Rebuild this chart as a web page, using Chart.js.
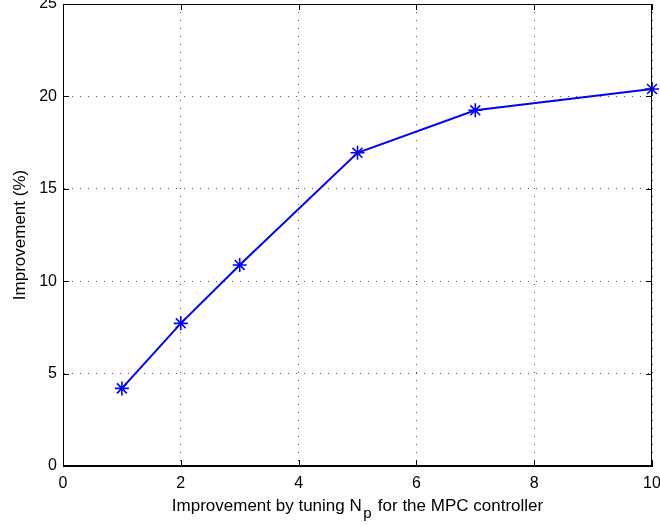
<!DOCTYPE html>
<html>
<head>
<meta charset="utf-8">
<script src="https://cdn.jsdelivr.net/npm/chart.js@4"></script>
<style>
  html, body { margin: 0; padding: 0; background: #fff; }
  canvas { display: block; }
</style>
</head>
<body>
<canvas id="myChart" width="660" height="526"></canvas>
<script>
// data
var npValues = [1, 2, 3, 5, 7, 10];
var improvement = [4.2, 7.72, 10.88, 16.95, 19.25, 20.4];
var xTicks = [0, 2, 4, 6, 8, 10];
var yTicks = [0, 5, 10, 15, 20, 25];

var FONT = "'Liberation Sans', Arial, sans-serif";

// box, inward ticks and axis titles (MATLAB look)
var matlabBox = {
  id: 'matlabBox',
  afterDraw: function (chart) {
    var ctx = chart.ctx;
    var a = chart.chartArea;
    var xs = chart.scales.x, ys = chart.scales.y;
    ctx.save();
    ctx.strokeStyle = '#000';
    ctx.lineWidth = 1;
    ctx.strokeRect(Math.round(a.left) + 0.5, Math.round(a.top) + 0.5,
      Math.round(a.right - a.left) - 1, Math.round(a.bottom - a.top) - 1);
    ctx.beginPath();
    xTicks.forEach(function (v) {
      var px = Math.round(xs.getPixelForValue(v)) + 0.5;
      ctx.moveTo(px, a.bottom); ctx.lineTo(px, a.bottom - 6);
      ctx.moveTo(px, a.top); ctx.lineTo(px, a.top + 6);
    });
    yTicks.forEach(function (v) {
      var py = Math.round(ys.getPixelForValue(v)) + 0.5;
      ctx.moveTo(a.left, py); ctx.lineTo(a.left + 6, py);
      ctx.moveTo(a.right, py); ctx.lineTo(a.right - 6, py);
    });
    ctx.stroke();

    ctx.fillStyle = '#000';
    ctx.font = '17px ' + FONT;
    // y title
    ctx.save();
    ctx.translate(20, (a.top + a.bottom) / 2);
    ctx.rotate(-Math.PI / 2);
    ctx.textAlign = 'center';
    ctx.textBaseline = 'middle';
    ctx.fillText('Improvement (%)', 0, 0);
    ctx.restore();
    // x title with subscript
    var t1 = 'Improvement by tuning N', sub = 'p', t2 = ' for the MPC controller';
    var w1 = ctx.measureText(t1).width, w2 = ctx.measureText(t2).width;
    ctx.font = '15px ' + FONT;
    var ws = ctx.measureText(sub).width;
    var gapA = 1.5, gapB = 1.5;
    var x0 = (a.left + a.right) / 2 - (w1 + gapA + ws + gapB + w2) / 2;
    var base = 511;
    ctx.textAlign = 'left';
    ctx.textBaseline = 'alphabetic';
    ctx.fillText(sub, x0 + w1 + gapA, base + 7);
    ctx.font = '17px ' + FONT;
    ctx.fillText(t1, x0, base);
    ctx.fillText(t2, x0 + w1 + gapA + ws + gapB, base);
    ctx.restore();
  }
};

var ctx1 = document.getElementById('myChart');
var myChart = new Chart(ctx1, {
  type: 'line',
  data: {
    datasets: [{
      data: npValues.map(function (x, i) { return { x: x, y: improvement[i] }; }),
      borderColor: '#0000ff',
      backgroundColor: '#0000ff',
      borderWidth: 2,
      pointStyle: 'star',
      pointRadius: 7,
      pointBorderWidth: 1.6,
      pointBorderColor: '#0000ff',
      tension: 0,
      fill: false,
      clip: false
    }]
  },
  options: {
    responsive: false,
    animation: false,
    events: [],
    layout: { autoPadding: false, padding: { top: 4, right: 8, left: 0, bottom: 0 } },
    plugins: { legend: { display: false }, tooltip: { enabled: false } },
    scales: {
      x: {
        type: 'linear',
        min: 0, max: 10,
        afterFit: function (s) { s.height = 60; s.paddingLeft = 0; s.paddingRight = 0; },
        afterBuildTicks: function (s) { s.ticks = xTicks.map(function (v) { return { value: v }; }); },
        grid: { color: '#555', lineWidth: 1, drawTicks: false },
        border: { display: true, color: '#000', dash: [1, 7] },
        ticks: { color: '#000', padding: 8, font: { family: FONT, size: 16 }, maxRotation: 0 }
      },
      y: {
        type: 'linear',
        min: 0, max: 25,
        afterFit: function (s) { s.width = 63; s.paddingTop = 0; s.paddingBottom = 0; },
        afterBuildTicks: function (s) { s.ticks = yTicks.map(function (v) { return { value: v }; }); },
        grid: { color: '#555', lineWidth: 1, drawTicks: false },
        border: { display: true, color: '#000', dash: [1, 7] },
        ticks: { color: '#000', padding: 6, font: { family: FONT, size: 16 } }
      }
    }
  },
  plugins: [matlabBox]
});
</script>
</body>
</html>
